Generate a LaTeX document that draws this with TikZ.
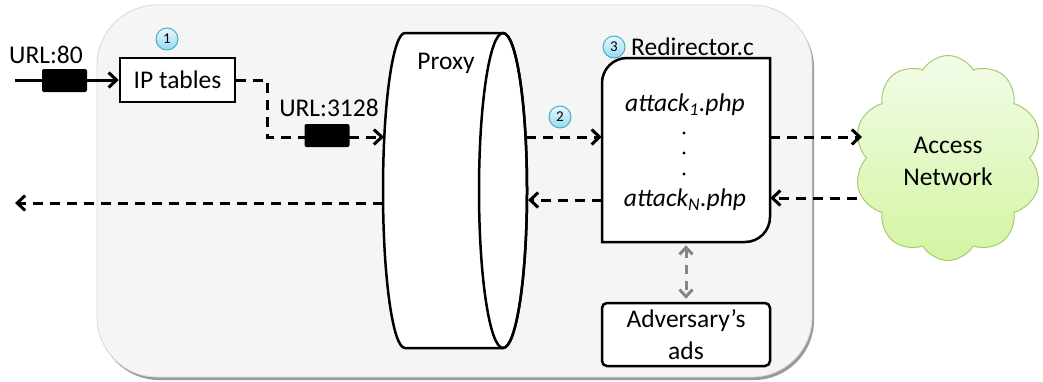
\documentclass[tikz,border=0pt]{standalone}
\usepackage{fontspec}
\setmainfont{Carlito}
\usetikzlibrary{arrows.meta,shapes.symbols}
\definecolor{panel}{HTML}{F5F5F5}
\definecolor{panelshadow}{HTML}{9A9A9A}
\definecolor{badgeedge}{HTML}{4BACC6}
\definecolor{badgetop}{HTML}{E8F8FD}
\definecolor{badgebot}{HTML}{93D9F0}
\definecolor{cloudedge}{HTML}{A8C96E}
\definecolor{cloudtop}{HTML}{F2FCE8}
\definecolor{cloudbot}{HTML}{D3F5A2}
\definecolor{linkgray}{HTML}{858585}
\tikzset{
  txt/.style={font=\fontsize{25.5}{32}\selectfont, inner sep=0pt},
  boxline/.style={draw=black, line width=2.5pt, fill=white},
  plug/.style={fill=black, rounded corners=2pt, minimum width=45pt, minimum height=23pt, inner sep=0pt},
  badge/.style={circle, draw=badgeedge, line width=1pt, inner sep=0pt, minimum size=22pt,
    top color=badgetop, bottom color=badgebot, font=\fontsize{15}{15}\selectfont},
  tip/.style={-{Straight Barb[length=8pt,width=15pt]}},
  solidarr/.style={line width=3pt, tip},
  dasharr/.style={line width=3pt, dash pattern=on 10pt off 7pt, tip},
  grayarr/.style={line width=3pt, draw=linkgray, dash pattern=on 9pt off 7pt,
    {Straight Barb[length=7pt,width=13pt]}-{Straight Barb[length=7pt,width=13pt]}},
}
\begin{document}
\begin{tikzpicture}[x=1pt,y=-1pt]
\useasboundingbox (0,0) rectangle (1043,381);

% background panel with its drop shadow
\fill[panelshadow, rounded corners=60pt] (99,8) rectangle (814,380);
\filldraw[fill=panel, draw=gray!30, line width=0.8pt, rounded corners=60pt] (97,5) rectangle (812,377);

% proxy drawn as a horizontal cylinder
\filldraw[boxline] (405,33) -- (503,33)
  arc[start angle=90, end angle=-90, x radius=24pt, y radius=157.5pt]
  -- (405,348)
  arc[start angle=270, end angle=90, x radius=22pt, y radius=157.5pt] -- cycle;
\draw[line width=2.5pt] (503,190.5) ellipse [x radius=24pt, y radius=157.5pt];
\node[txt] (proxylbl) at (446,63) {Proxy};
\coordinate (pxin) at (384,137);
\coordinate (pxleft) at (383,203);
\coordinate (pxout) at (526,137);
\coordinate (pxret) at (528,200);

% IP tables
\node[txt, boxline, minimum width=115pt, minimum height=44pt] (ipt) at (177.5,80) {IP tables};
\node[badge] (b1) at (167,39) {1};
\node[txt] (url80) at (46,55) {URL:80};
\node[txt] (url3128) at (329,108) {URL:3128};

% redirector script box (rounded top-left and bottom-right)
\filldraw[boxline] (627,58) -- (770,58) -- (770,217)
  arc[start angle=0, end angle=-90, radius=25pt] -- (602,242) -- (602,83)
  arc[start angle=180, end angle=90, radius=25pt] -- cycle;
\node[minimum width=168pt, minimum height=184pt, inner sep=0pt] (redir) at (686,150) {};
\node[badge] (b3) at (614,47) {3};
\node[txt, anchor=west] (redirlbl) at (631,47) {Redirector.c};
\node[txt, font=\fontsize{25.5}{32}\selectfont\itshape] (att1) at (685,105) {attack\textsubscript{1}.php};
\fill (684,133) circle[radius=1.6pt];
\fill (684,153) circle[radius=1.6pt];
\fill (684,174) circle[radius=1.6pt];
\node[txt, font=\fontsize{25.5}{32}\selectfont\itshape] (attN) at (685,200) {attack\textsubscript{N}.php};
\node[badge] (b2) at (560,117) {2};

% adversary's ads
\node[txt, draw=black, line width=2.5pt, fill=white, rounded corners=5pt, align=center,
  minimum width=168pt, minimum height=63pt] (ads) at (686,334.5) {Adversary’s\\ads};

% access network cloud
\node[cloud, cloud puffs=10, cloud puff arc=120, aspect=0.9, draw=cloudedge, line width=1pt,
  top color=cloudtop, bottom color=cloudbot, minimum width=188pt, minimum height=205pt,
  inner sep=0pt] (net) at (948,158) {};
\node[txt, align=center] (netlbl) at (948,161) {Access\\Network};
\coordinate (cloudin) at (862,137);
\coordinate (cloudout) at (857,198);

% free ends on the far left
\coordinate (in80) at (15,80);
\coordinate (out) at (15,203);

% connectors
\draw[solidarr] (in80) -- (ipt.west);
\draw[dasharr] (ipt.east) -- ++(31,0) |- (pxin);
\draw[dasharr] (pxout) -- (pxout -| redir.west);
\draw[dasharr] (redir.west |- pxret) -- (pxret);
\draw[dasharr] (pxleft) -- (out);
\draw[dasharr] (redir.east |- cloudin) -- (cloudin);
\draw[dasharr] (cloudout) -- (cloudout -| redir.east);
\draw[grayarr] ([yshift=-3pt]redir.south) -- ([yshift=3pt]ads.north);

% plugs on the incoming links
\node[plug] (plugA) at (64.5,80.5) {};
\node[plug] (plugB) at (327,135.5) {};
\end{tikzpicture}
\end{document}
